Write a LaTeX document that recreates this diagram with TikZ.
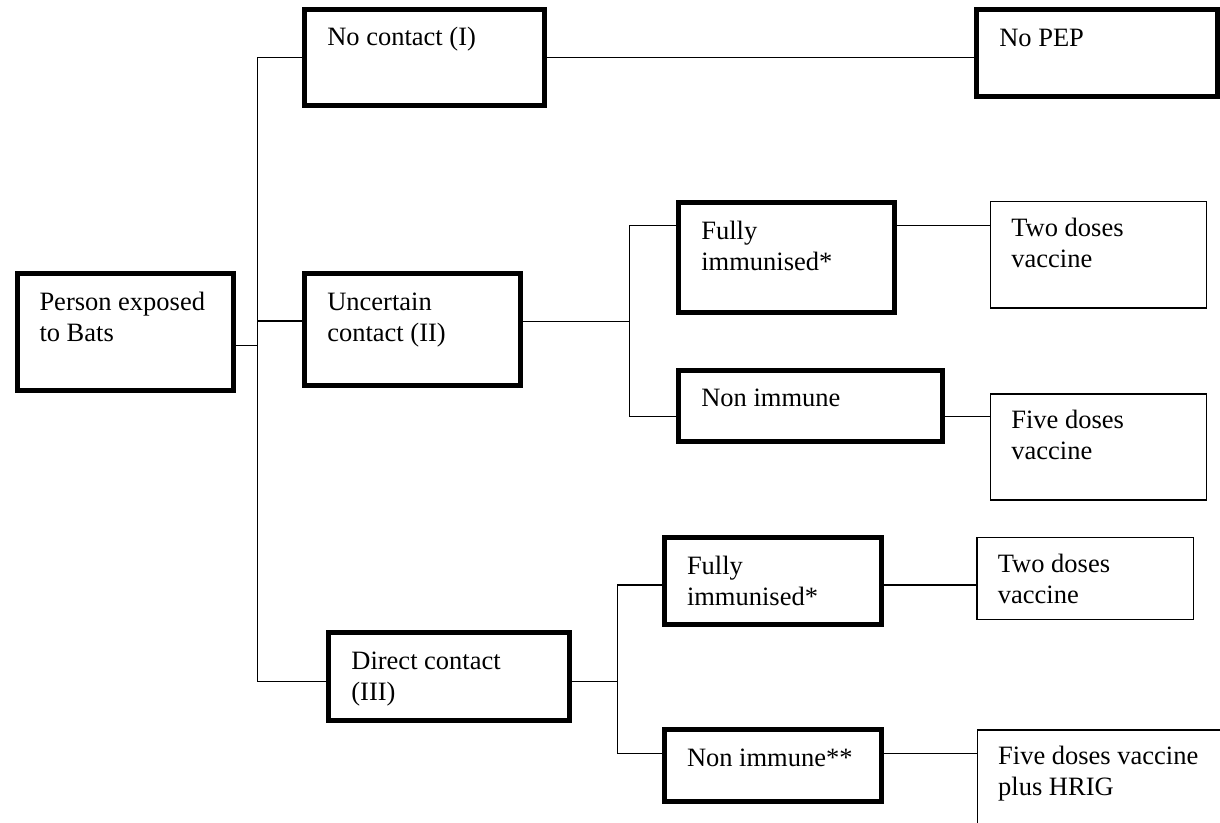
\documentclass[tikz,border=0pt]{standalone}
\usepackage{fontspec}
\setmainfont{Liberation Serif}
\newlength{\padL}
\newcommand{\boxtext}[5]{%
  \begin{minipage}[t][#2][t]{#1}%
    \fontsize{26.5}{31}\selectfont
    \vspace*{#3}\raggedright\leftskip=#4\relax\parindent=0pt
    \strut #5\par
  \end{minipage}}
\newcommand{\tb}[3]{\boxtext{#1}{#2}{14.8pt}{22.5pt}{#3}}
\newcommand{\nb}[3]{\boxtext{#1}{#2}{13.05pt}{20.75pt}{#3}}
\tikzset{
  heavybox/.style={draw=black, line width=5pt, inner sep=0pt, outer sep=0pt, anchor=north west},
  lightbox/.style={draw=black, line width=1.5pt, inner sep=0pt, outer sep=0pt, anchor=north west},
  link/.style={draw=black, line width=1.5pt}
}
\begin{document}
\begin{tikzpicture}[x=1pt, y=-1pt]
\useasboundingbox (0,0) rectangle (1220,822);
\clip (0,0) rectangle (1220,822);
\fill[white] (0,0) rectangle (1220,822);

% boxes
\node[heavybox] (p)   at (17,273.5)   {\tb{216.2pt}{116.7pt}{Person exposed\\to Bats}};
\node[heavybox] (nc)  at (304.8,9.2)  {\tb{240pt}{96pt}{No contact (I)}};
\node[heavybox] (pep) at (976.8,9.8)  {\tb{240.7pt}{86.4pt}{No PEP}};
\node[heavybox] (uc)  at (304.8,273.5) {\tb{215.9pt}{112.3pt}{Uncertain\\contact (II)}};
\node[heavybox] (f1)  at (678.8,202.5) {\tb{215.3pt}{110pt}{Fully\\immunised*}};
\node[lightbox] (t1)  at (990.6,201.4) {\nb{216.1pt}{106.6pt}{Two doses\\vaccine}};
\node[heavybox] (n1)  at (678.8,370.2) {\tb{263.5pt}{71.3pt}{Non immune}};
\node[lightbox] (v1)  at (990.6,394)   {\nb{216.1pt}{106pt}{Five doses\\vaccine}};
\node[heavybox] (dc)  at (328.9,632.5) {\tb{240.8pt}{88.3pt}{Direct contact\\(III)}};
\node[heavybox] (f2)  at (664.5,537.5) {\tb{216.9pt}{87pt}{Fully\\immunised*}};
\node[lightbox] (t2)  at (977.1,537.4) {\nb{216.5pt}{82.2pt}{Two doses\\vaccine}};
\node[heavybox] (n2)  at (664.5,729.8) {\tb{216.9pt}{72pt}{Non immune**}};
\node[lightbox] (h)   at (977.4,730)   {\nb{270pt}{130pt}{Five doses vaccine\\plus HRIG}};

% junction points
\coordinate (ta) at (257.3,57.3);
\coordinate (tu) at (257.3,321.2);
\coordinate (j0) at (257.3,345.7);
\coordinate (tb) at (257.3,681.7);
\coordinate (ua) at (629.7,225.7);
\coordinate (um) at (629.7,321.3);
\coordinate (ub) at (629.7,416.7);
\coordinate (da) at (617.3,585);
\coordinate (dm) at (617.3,681.7);
\coordinate (db) at (617.3,753.3);

% connectors
\draw[link] (p.east |- j0) -- (j0);
\draw[link] (nc.west |- ta) -- (ta) -- (tb) -- (dc.west |- tb);
\draw[link] (tu) -- (uc.west |- tu);
\draw[link] (nc.east |- ta) -- (pep.west |- ta);

\draw[link] (uc.east |- um) -- (um);
\draw[link] (f1.west |- ua) -- (ua) -- (ub) -- (n1.west |- ub);
\draw[link] (f1.east |- ua) -- (t1.west |- ua);
\draw[link] (n1.east |- ub) -- (v1.west |- ub);

\draw[link] (dc.east |- dm) -- (dm);
\draw[link] (f2.west |- da) -- (da) -- (db) -- (n2.west |- db);
\draw[link] (f2.east |- da) -- (t2.west |- da);
\draw[link] (n2.east |- db) -- (h.west |- db);
\end{tikzpicture}
\end{document}
